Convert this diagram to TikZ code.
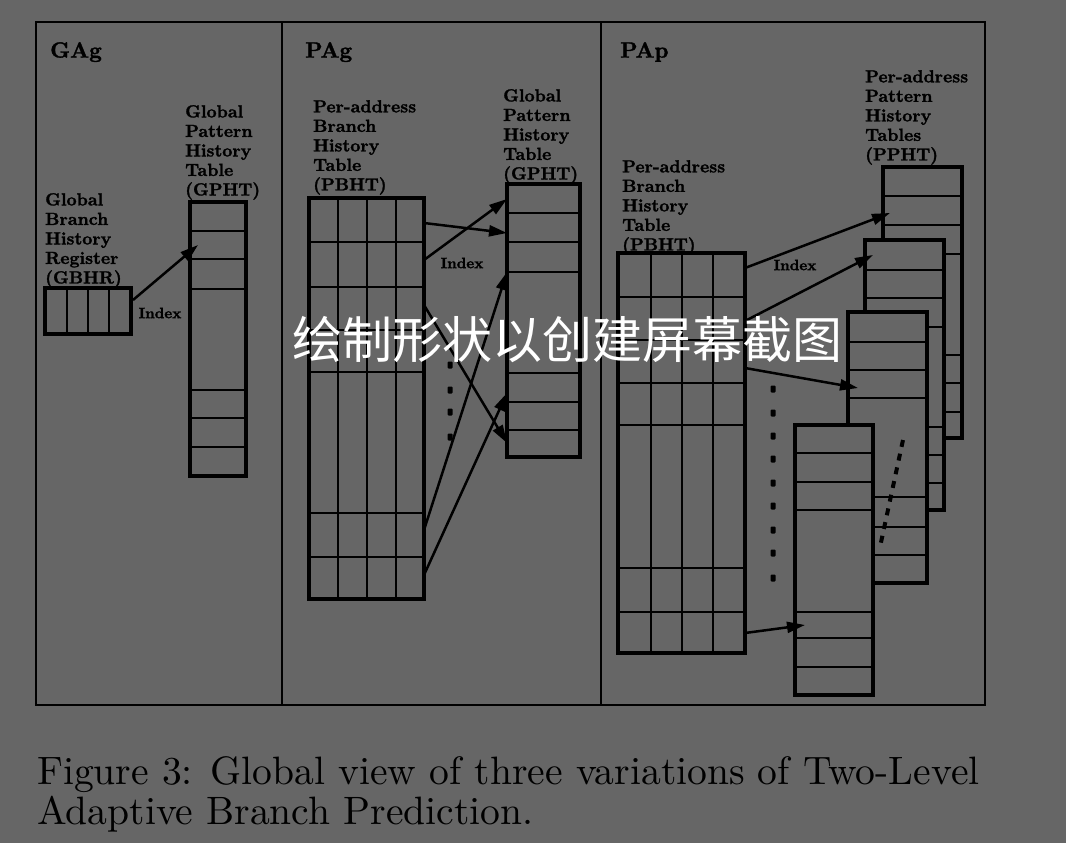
\documentclass[tikz,border=0pt]{standalone}
\usepackage{fontspec}
\setmainfont{lmroman10-regular}[Extension=.otf, BoldFont=lmroman10-bold, ItalicFont=lmroman10-italic, BoldItalicFont=lmroman10-bolditalic]
\newfontfamily\heavy{lmroman10-bold}[Extension=.otf, FakeBold=1.6]
\newfontfamily\cjk{Noto Sans CJK SC}
\usetikzlibrary{arrows.meta}
\definecolor{bg}{HTML}{666666}
\tikzset{
  tab/.style={draw=black, line width=3.6pt, fill=bg, inner sep=0pt, outer sep=0pt, anchor=north west},
  cell/.style={line width=2.6pt},
  arr/.style={line width=2.5pt, -{Triangle[length=18pt,width=11pt]}},
  lbl/.style={font=\heavy\fontsize{17.5}{19.5}\selectfont, align=left, inner sep=0pt, anchor=north west},
  ttl/.style={font=\heavy\fontsize{22}{26}\selectfont, inner sep=0pt, anchor=north west},
  idx/.style={font=\heavy\fontsize{15}{17}\selectfont, inner sep=0pt},
  dotm/.style={fill=black, minimum width=5pt, minimum height=7pt, inner sep=0pt, rounded corners=1pt},
  frame/.style={line width=2.6pt},
  capt/.style={font=\fontsize{39.6}{40}\selectfont, inner sep=0pt, anchor=base west},
}
% name, x1, y1, x2, y2, row positions
\newcommand\mktab[6]{%
  \node[tab, minimum width={(#4-#2)*1pt}, minimum height={(#5-#3)*1pt}] (#1) at (#2,#3) {};
  \foreach \yy in {#6} {\draw[cell] (#2,\yy) -- (#4,\yy);}
}
% x list, y1, y2
\newcommand\mkcols[3]{%
  \foreach \xx in {#1} {\draw[cell] (\xx,#2) -- (\xx,#3);}
}
\begin{document}
\begin{tikzpicture}[x=1pt,y=-1pt]
\useasboundingbox (0,0) rectangle (1066,843);
\fill[bg] (0,0) rectangle (1066,843);

% outer frame and panel dividers
\draw[frame] (36,22) rectangle (985,705);
\coordinate (d1t) at (282,22); \coordinate (d1b) at (282,705);
\coordinate (d2t) at (601,22); \coordinate (d2b) at (601,705);
\draw[frame] (d1t) -- (d1b);
\draw[frame] (d2t) -- (d2b);

% ---------------- GAg ----------------
\node[ttl] (tGAg) at (50,42) {GAg};
\node[lbl] (lGBHR) at (45,193) {Global\\Branch\\History\\Register\\(GBHR)};
\node[lbl] (lGPHT1) at (185,105) {Global\\Pattern\\History\\Table\\(GPHT)};
\node[tab, minimum width=86pt, minimum height=46pt] (gbhr) at (45,288) {};
\mkcols{67,88,109}{288}{334}
\mktab{gpht1}{190}{202}{246}{476}{231,259,289,390,418,447}
\coordinate (ga-s) at (133,300);
\coordinate (ga-t) at (198,245);
\draw[arr] (ga-s) -- (ga-t);
\node[idx] (iGA) at (160,313) {Index};

% ---------------- PAg ----------------
\node[ttl] (tPAg) at (305,42) {PAg};
\node[lbl] (lPBHT1) at (313,100) {Per-address\\Branch\\History\\Table\\(PBHT)};
\node[lbl] (lGPHT2) at (503,89) {Global\\Pattern\\History\\Table\\(GPHT)};
\mktab{pbht1}{309}{198}{424}{599}{242,287,330,372,513,557}
\mkcols{338,367,396}{198}{599}
\mktab{gpht2}{507}{184}{580}{457}{213,242,272,373,402,430}
\coordinate (pa-s1) at (424,223); \coordinate (pa-t1) at (507,233);
\coordinate (pa-s2) at (424,260); \coordinate (pa-t2) at (507,199);
\coordinate (pa-s3) at (424,305); \coordinate (pa-t3) at (507,443);
\coordinate (pa-s4) at (424,530); \coordinate (pa-t4) at (507,272);
\coordinate (pa-s5) at (424,575); \coordinate (pa-t5) at (507,393);
\draw[arr] (pa-s1) -- (pa-t1);
\draw[arr] (pa-s2) -- (pa-t2);
\draw[arr] (pa-s3) -- (pa-t3);
\draw[arr] (pa-s4) -- (pa-t4);
\draw[arr] (pa-s5) -- (pa-t5);
\node[idx] (iPAg) at (462,263) {Index};
\foreach \yy [count=\i] in {365,390,412,437} {\node[dotm] (gd\i) at (450,\yy) {};}

% ---------------- PAp ----------------
\node[ttl] (tPAp) at (620,42) {PAp};
\node[lbl] (lPBHT2) at (622,160) {Per-address\\Branch\\History\\Table\\(PBHT)};
\node[lbl] (lPPHT) at (865,70) {Per-address\\Pattern\\History\\Tables\\(PPHT)};
\mktab{pbht2}{618}{253}{745}{653}{297,340,383,425,568,612}
\mkcols{651,682,713}{253}{653}
\mktab{ppA}{883}{167}{962}{438}{196,225,254,355,383,412}
\mktab{ppB}{865}{240}{944}{510}{270,298,327,427,455,483}
\mktab{ppC}{848}{312}{927}{583}{342,370,398,497,527,555}
\mktab{ppD}{795}{425}{873}{695}{453,482,510,612,638,667}
\coordinate (pp-s1) at (745,268); \coordinate (pp-t1) at (890,213);
\coordinate (pp-s2) at (745,321); \coordinate (pp-t2) at (873,255);
\coordinate (pp-s3) at (745,368); \coordinate (pp-t3) at (858,388);
\coordinate (pp-s4) at (745,633); \coordinate (pp-t4) at (805,625);
\draw[arr] (pp-s1) -- (pp-t1);
\draw[arr] (pp-s2) -- (pp-t2);
\draw[arr] (pp-s3) -- (pp-t3);
\draw[arr] (pp-s4) -- (pp-t4);
\node[idx] (iPAp) at (795,265) {Index};
\foreach \yy [count=\i] in {389,413,436,459,483,506,530,553,578} {\node[dotm] (pd\i) at (773,\yy) {};}
\coordinate (dg-a) at (903,440); \coordinate (dg-b) at (880,547);
\draw[line width=4pt, dash pattern=on 7pt off 7pt] (dg-a) -- (dg-b);

% ---------------- watermark ----------------
\node[font=\cjk\fontsize{50}{60}\selectfont, text=white, anchor=west, inner sep=0pt] (wm) at (292,340) {绘制形状以创建屏幕截图};

% ---------------- caption ----------------
\node[capt] (cap1) at (37,784) {Figure 3: Global view of three variations of Two-Level};
\node[capt] (cap2) at (37,824) {Adaptive Branch Prediction.};
\end{tikzpicture}
\end{document}
